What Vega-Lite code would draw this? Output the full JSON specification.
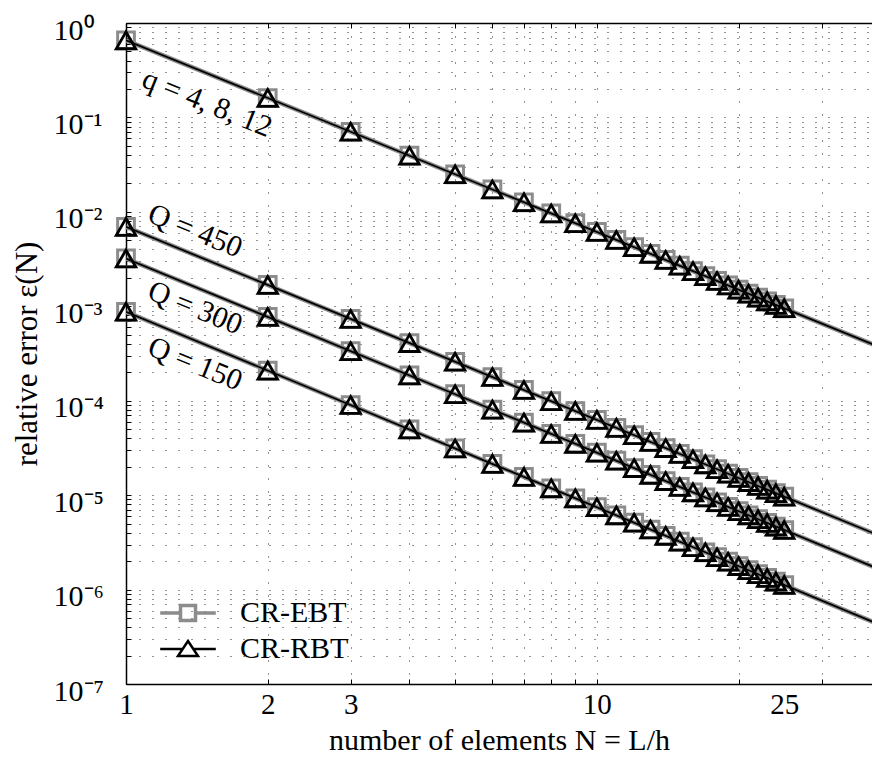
{
  "$schema": "https://vega.github.io/schema/vega-lite/v6.json",
  "width": 746,
  "height": 661,
  "autosize": {"type": "none"},
  "padding": {"left": 126, "top": 23, "right": 0, "bottom": 79},
  "background": "white",
  "config": {
    "view": {"stroke": null},
    "font": "Liberation Serif",
    "axis": {
      "labelFont": "Liberation Serif",
      "titleFont": "Liberation Serif",
      "labelColor": "black",
      "titleColor": "black",
      "titleFontWeight": "normal",
      "domainColor": "black",
      "domainWidth": 1.5,
      "tickColor": "black",
      "tickWidth": 1
    }
  },
  "datasets": {
    "points": [
      {"N": 1, "s": "q", "ebt": 0.656, "rbt": 0.656},
      {"N": 2, "s": "q", "ebt": 0.1606, "rbt": 0.1606},
      {"N": 3, "s": "q", "ebt": 0.07053, "rbt": 0.07053},
      {"N": 4, "s": "q", "ebt": 0.03933, "rbt": 0.03933},
      {"N": 5, "s": "q", "ebt": 0.025, "rbt": 0.025},
      {"N": 6, "s": "q", "ebt": 0.01727, "rbt": 0.01727},
      {"N": 7, "s": "q", "ebt": 0.01263, "rbt": 0.01263},
      {"N": 8, "s": "q", "ebt": 0.00963, "rbt": 0.00963},
      {"N": 9, "s": "q", "ebt": 0.007585, "rbt": 0.007585},
      {"N": 10, "s": "q", "ebt": 0.006122, "rbt": 0.006122},
      {"N": 11, "s": "q", "ebt": 0.005045, "rbt": 0.005045},
      {"N": 12, "s": "q", "ebt": 0.004228, "rbt": 0.004228},
      {"N": 13, "s": "q", "ebt": 0.003594, "rbt": 0.003594},
      {"N": 14, "s": "q", "ebt": 0.003093, "rbt": 0.003093},
      {"N": 15, "s": "q", "ebt": 0.002689, "rbt": 0.002689},
      {"N": 16, "s": "q", "ebt": 0.002358, "rbt": 0.002358},
      {"N": 17, "s": "q", "ebt": 0.002085, "rbt": 0.002085},
      {"N": 18, "s": "q", "ebt": 0.001857, "rbt": 0.001857},
      {"N": 19, "s": "q", "ebt": 0.001664, "rbt": 0.001664},
      {"N": 20, "s": "q", "ebt": 0.0015, "rbt": 0.0015},
      {"N": 21, "s": "q", "ebt": 0.001358, "rbt": 0.001358},
      {"N": 22, "s": "q", "ebt": 0.001236, "rbt": 0.001236},
      {"N": 23, "s": "q", "ebt": 0.001129, "rbt": 0.001129},
      {"N": 24, "s": "q", "ebt": 0.001035, "rbt": 0.001035},
      {"N": 25, "s": "q", "ebt": 0.000953, "rbt": 0.000953},
      {"N": 1, "s": "Q450", "ebt": 0.00694, "rbt": 0.00694},
      {"N": 2, "s": "Q450", "ebt": 0.001683, "rbt": 0.001683},
      {"N": 3, "s": "Q450", "ebt": 0.0007348, "rbt": 0.0007348},
      {"N": 4, "s": "Q450", "ebt": 0.000408, "rbt": 0.000408},
      {"N": 5, "s": "Q450", "ebt": 0.0002586, "rbt": 0.0002586},
      {"N": 6, "s": "Q450", "ebt": 0.0001782, "rbt": 0.0001782},
      {"N": 7, "s": "Q450", "ebt": 0.00013, "rbt": 0.00013},
      {"N": 8, "s": "Q450", "ebt": 9.896e-5, "rbt": 9.896e-5},
      {"N": 9, "s": "Q450", "ebt": 7.78e-5, "rbt": 7.78e-5},
      {"N": 10, "s": "Q450", "ebt": 6.271e-5, "rbt": 6.271e-5},
      {"N": 11, "s": "Q450", "ebt": 5.161e-5, "rbt": 5.161e-5},
      {"N": 12, "s": "Q450", "ebt": 4.32e-5, "rbt": 4.32e-5},
      {"N": 13, "s": "Q450", "ebt": 3.668e-5, "rbt": 3.668e-5},
      {"N": 14, "s": "Q450", "ebt": 3.153e-5, "rbt": 3.153e-5},
      {"N": 15, "s": "Q450", "ebt": 2.738e-5, "rbt": 2.738e-5},
      {"N": 16, "s": "Q450", "ebt": 2.4e-5, "rbt": 2.4e-5},
      {"N": 17, "s": "Q450", "ebt": 2.12e-5, "rbt": 2.12e-5},
      {"N": 18, "s": "Q450", "ebt": 1.886e-5, "rbt": 1.886e-5},
      {"N": 19, "s": "Q450", "ebt": 1.689e-5, "rbt": 1.689e-5},
      {"N": 20, "s": "Q450", "ebt": 1.521e-5, "rbt": 1.521e-5},
      {"N": 21, "s": "Q450", "ebt": 1.376e-5, "rbt": 1.376e-5},
      {"N": 22, "s": "Q450", "ebt": 1.252e-5, "rbt": 1.252e-5},
      {"N": 23, "s": "Q450", "ebt": 1.143e-5, "rbt": 1.143e-5},
      {"N": 24, "s": "Q450", "ebt": 1.048e-5, "rbt": 1.048e-5},
      {"N": 25, "s": "Q450", "ebt": 9.638e-6, "rbt": 9.638e-6},
      {"N": 1, "s": "Q300", "ebt": 0.00321, "rbt": 0.00321},
      {"N": 2, "s": "Q300", "ebt": 0.0007716, "rbt": 0.0007716},
      {"N": 3, "s": "Q300", "ebt": 0.000335, "rbt": 0.000335},
      {"N": 4, "s": "Q300", "ebt": 0.0001854, "rbt": 0.0001854},
      {"N": 5, "s": "Q300", "ebt": 0.0001172, "rbt": 0.0001172},
      {"N": 6, "s": "Q300", "ebt": 8.053e-5, "rbt": 8.053e-5},
      {"N": 7, "s": "Q300", "ebt": 5.866e-5, "rbt": 5.866e-5},
      {"N": 8, "s": "Q300", "ebt": 4.455e-5, "rbt": 4.455e-5},
      {"N": 9, "s": "Q300", "ebt": 3.497e-5, "rbt": 3.497e-5},
      {"N": 10, "s": "Q300", "ebt": 2.815e-5, "rbt": 2.815e-5},
      {"N": 11, "s": "Q300", "ebt": 2.314e-5, "rbt": 2.314e-5},
      {"N": 12, "s": "Q300", "ebt": 1.935e-5, "rbt": 1.935e-5},
      {"N": 13, "s": "Q300", "ebt": 1.641e-5, "rbt": 1.641e-5},
      {"N": 14, "s": "Q300", "ebt": 1.409e-5, "rbt": 1.409e-5},
      {"N": 15, "s": "Q300", "ebt": 1.223e-5, "rbt": 1.223e-5},
      {"N": 16, "s": "Q300", "ebt": 1.071e-5, "rbt": 1.071e-5},
      {"N": 17, "s": "Q300", "ebt": 9.451e-6, "rbt": 9.451e-6},
      {"N": 18, "s": "Q300", "ebt": 8.402e-6, "rbt": 8.402e-6},
      {"N": 19, "s": "Q300", "ebt": 7.518e-6, "rbt": 7.518e-6},
      {"N": 20, "s": "Q300", "ebt": 6.766e-6, "rbt": 6.766e-6},
      {"N": 21, "s": "Q300", "ebt": 6.119e-6, "rbt": 6.119e-6},
      {"N": 22, "s": "Q300", "ebt": 5.561e-6, "rbt": 5.561e-6},
      {"N": 23, "s": "Q300", "ebt": 5.075e-6, "rbt": 5.075e-6},
      {"N": 24, "s": "Q300", "ebt": 4.65e-6, "rbt": 4.65e-6},
      {"N": 25, "s": "Q300", "ebt": 4.275e-6, "rbt": 4.275e-6},
      {"N": 1, "s": "Q150", "ebt": 0.000875, "rbt": 0.000875},
      {"N": 2, "s": "Q150", "ebt": 0.0002084, "rbt": 0.0002084},
      {"N": 3, "s": "Q150", "ebt": 9.001e-5, "rbt": 9.001e-5},
      {"N": 4, "s": "Q150", "ebt": 4.963e-5, "rbt": 4.963e-5},
      {"N": 5, "s": "Q150", "ebt": 3.127e-5, "rbt": 3.127e-5},
      {"N": 6, "s": "Q150", "ebt": 2.144e-5, "rbt": 2.144e-5},
      {"N": 7, "s": "Q150", "ebt": 1.559e-5, "rbt": 1.559e-5},
      {"N": 8, "s": "Q150", "ebt": 1.182e-5, "rbt": 1.182e-5},
      {"N": 9, "s": "Q150", "ebt": 9.262e-6, "rbt": 9.262e-6},
      {"N": 10, "s": "Q150", "ebt": 7.447e-6, "rbt": 7.447e-6},
      {"N": 11, "s": "Q150", "ebt": 6.114e-6, "rbt": 6.114e-6},
      {"N": 12, "s": "Q150", "ebt": 5.106e-6, "rbt": 5.106e-6},
      {"N": 13, "s": "Q150", "ebt": 4.326e-6, "rbt": 4.326e-6},
      {"N": 14, "s": "Q150", "ebt": 3.711e-6, "rbt": 3.711e-6},
      {"N": 15, "s": "Q150", "ebt": 3.217e-6, "rbt": 3.217e-6},
      {"N": 16, "s": "Q150", "ebt": 2.814e-6, "rbt": 2.814e-6},
      {"N": 17, "s": "Q150", "ebt": 2.483e-6, "rbt": 2.483e-6},
      {"N": 18, "s": "Q150", "ebt": 2.206e-6, "rbt": 2.206e-6},
      {"N": 19, "s": "Q150", "ebt": 1.972e-6, "rbt": 1.972e-6},
      {"N": 20, "s": "Q150", "ebt": 1.774e-6, "rbt": 1.774e-6},
      {"N": 21, "s": "Q150", "ebt": 1.603e-6, "rbt": 1.603e-6},
      {"N": 22, "s": "Q150", "ebt": 1.456e-6, "rbt": 1.456e-6},
      {"N": 23, "s": "Q150", "ebt": 1.328e-6, "rbt": 1.328e-6},
      {"N": 24, "s": "Q150", "ebt": 1.216e-6, "rbt": 1.216e-6},
      {"N": 25, "s": "Q150", "ebt": 1.118e-6, "rbt": 1.118e-6}
    ],
    "fit": [
      {"N": 1, "s": "q", "ebt": 0.656, "rbt": 0.656},
      {"N": 40, "s": "q", "ebt": 3.67e-4, "rbt": 3.67e-4},
      {"N": 1, "s": "Q450", "ebt": 0.00694, "rbt": 0.00694},
      {"N": 40, "s": "Q450", "ebt": 3.687e-6, "rbt": 3.687e-6},
      {"N": 1, "s": "Q300", "ebt": 0.00321, "rbt": 0.00321},
      {"N": 40, "s": "Q300", "ebt": 1.626e-6, "rbt": 1.626e-6},
      {"N": 1, "s": "Q150", "ebt": 0.000875, "rbt": 0.000875},
      {"N": 40, "s": "Q150", "ebt": 4.224e-7, "rbt": 4.224e-7}
    ],
    "labels": [
      {"N": 1.486, "e": 0.141, "text": "q = 4, 8, 12"},
      {"N": 1.402, "e": 0.00625, "text": "Q = 450"},
      {"N": 1.402, "e": 0.000957, "text": "Q = 300"},
      {"N": 1.402, "e": 0.000244, "text": "Q = 150"}
    ]
  },
  "layer": [
    {
      "data": {"name": "fit"},
      "mark": {"type": "line", "stroke": "#8c8c8c", "strokeWidth": 4.5, "clip": true},
      "encoding": {
        "x": {
          "field": "N", "type": "quantitative",
          "scale": {"type": "log", "domain": [1, 38.4], "nice": false},
          "axis": {
            "orient": "bottom",
            "values": [1, 2, 3, 4, 5, 6, 7, 8, 9, 10, 20, 25, 30],
            "labelExpr": "indexof([1, 2, 3, 10, 25], datum.value) >= 0 ? '' + datum.value : ''",
            "tickOpacity": {"condition": {"test": "datum.value == 25", "value": 0}, "value": 1},
            "gridOpacity": {"condition": {"test": "datum.value == 25", "value": 0}, "value": 0.85},
            "grid": true,
            "gridDash": [1, 12],
            "gridColor": "black",
            "gridWidth": 1,
            "tickSize": -5,
            "labelFontSize": 29,
            "labelPadding": 11,
            "labelOverlap": false,
            "labelFlush": false,
            "labelBound": false,
            "title": "number of elements N = L/h",
            "titleFontSize": 30,
            "titlePadding": 6
          }
        },
        "y": {
          "field": "ebt", "type": "quantitative",
          "scale": {"type": "log", "domain": [1e-7, 1], "nice": false},
          "axis": {
            "orient": "left",
            "values": [1e-7, 2e-7, 3e-7, 4e-7, 5e-7, 6e-7, 7e-7, 8e-7, 9e-7, 1e-6, 2e-6, 3e-6, 4e-6, 5e-6, 6e-6, 7e-6, 8e-6, 9e-6, 1e-5, 2e-5, 3e-5, 4e-5, 5e-5, 6e-5, 7e-5, 8e-5, 9e-5, 0.0001, 0.0002, 0.0003, 0.0004, 0.0005, 0.0006, 0.0007, 0.0008, 0.0009, 0.001, 0.002, 0.003, 0.004, 0.005, 0.006, 0.007, 0.008, 0.009, 0.01, 0.02, 0.03, 0.04, 0.05, 0.06, 0.07, 0.08, 0.09, 0.1, 0.2, 0.3, 0.4, 0.5, 0.6, 0.7, 0.8, 0.9, 1],
            "labelExpr": "datum.value == 1 ? '10⁰' : datum.value == 0.1 ? '10⁻¹' : datum.value == 0.01 ? '10⁻²' : datum.value == 0.001 ? '10⁻³' : datum.value == 0.0001 ? '10⁻⁴' : datum.value == 0.00001 ? '10⁻⁵' : datum.value == 0.000001 ? '10⁻⁶' : datum.value == 0.0000001 ? '10⁻⁷' : ''",
            "grid": true,
            "gridDash": [1, 12],
            "gridColor": "black",
            "gridWidth": 1,
            "gridOpacity": 0.85,
            "tickSize": -5,
            "labelFontSize": 30,
            "labelAlign": "left",
            "labelBaseline": "middle",
            "labelPadding": 78,
            "labelOffset": 7,
            "labelOverlap": false,
            "labelFlush": false,
            "labelBound": false,
            "title": "relative error ε(N)",
            "titleFontSize": 31,
            "titlePadding": 10
          }
        },
        "detail": {"field": "s"}
      }
    },
    {
      "data": {"name": "points"},
      "mark": {"type": "point", "shape": "square", "size": 280, "stroke": "#8c8c8c", "strokeWidth": 3, "filled": false, "opacity": 1},
      "encoding": {
        "x": {"field": "N", "type": "quantitative", "scale": {"type": "log", "domain": [1, 38.4], "nice": false}, "axis": null},
        "y": {"field": "ebt", "type": "quantitative", "scale": {"type": "log", "domain": [1e-7, 1], "nice": false}}
      }
    },
    {
      "data": {"name": "fit"},
      "mark": {"type": "line", "stroke": "black", "strokeWidth": 1.8, "clip": true},
      "encoding": {
        "x": {"field": "N", "type": "quantitative", "scale": {"type": "log", "domain": [1, 38.4], "nice": false}, "axis": null},
        "y": {"field": "rbt", "type": "quantitative", "scale": {"type": "log", "domain": [1e-7, 1], "nice": false}},
        "detail": {"field": "s"}
      }
    },
    {
      "data": {"name": "points"},
      "mark": {"type": "point", "shape": "triangle-up", "size": 380, "stroke": "black", "strokeWidth": 2.8, "filled": false, "opacity": 1},
      "encoding": {
        "x": {"field": "N", "type": "quantitative", "scale": {"type": "log", "domain": [1, 38.4], "nice": false}, "axis": null},
        "y": {"field": "rbt", "type": "quantitative", "scale": {"type": "log", "domain": [1e-7, 1], "nice": false}}
      }
    },
    {
      "data": {"name": "labels"},
      "mark": {"type": "text", "angle": 22, "align": "center", "baseline": "middle", "font": "Liberation Serif", "fontSize": 30, "color": "black"},
      "encoding": {
        "x": {"field": "N", "type": "quantitative", "scale": {"type": "log", "domain": [1, 38.4], "nice": false}, "axis": null},
        "y": {"field": "e", "type": "quantitative", "scale": {"type": "log", "domain": [1e-7, 1], "nice": false}},
        "text": {"field": "text"}
      }
    },
    {
      "data": {"name": "fit"},
      "transform": [{"filter": "false"}],
      "mark": {"type": "point", "filled": false, "opacity": 1},
      "encoding": {
        "x": {
          "field": "N", "type": "quantitative",
          "scale": {"type": "log", "domain": [1, 38.4], "nice": false},
          "axis": {
            "orient": "top",
            "values": [1, 2, 3, 4, 5, 6, 7, 8, 9, 10, 20, 30],
            "labels": false,
            "grid": false,
            "tickSize": -5,
            "title": null
          }
        },
        "y": {"field": "ebt", "type": "quantitative", "scale": {"type": "log", "domain": [1e-7, 1], "nice": false}},
        "shape": {
          "field": "m", "type": "nominal",
          "scale": {
            "domain": ["CR-EBT", "CR-RBT"],
            "range": [
              "M-2.78,0L-0.75,0M-0.75,-0.75L0.75,-0.75L0.75,0.75L-0.75,0.75ZM0.75,0L2.78,0",
              "M-2.78,0L-0.53,0M0.53,0L2.78,0M0,-0.8L1,0.7L-1,0.7Z"
            ]
          },
          "legend": {
            "title": null,
            "orient": "none",
            "legendX": 47,
            "legendY": 575,
            "padding": 0,
            "symbolSize": 400,
            "symbolFillColor": "white",
            "labelFont": "Liberation Serif",
            "labelFontSize": 30,
            "labelColor": "black",
            "labelOffset": 37,
            "rowPadding": 6
          }
        },
        "stroke": {
          "field": "m", "type": "nominal",
          "scale": {"domain": ["CR-EBT", "CR-RBT"], "range": ["#8c8c8c", "black"]},
          "legend": {"title": null}
        },
        "strokeWidth": {
          "field": "m", "type": "nominal",
          "scale": {"domain": ["CR-EBT", "CR-RBT"], "range": [3.5, 2.5]},
          "legend": {"title": null}
        }
      }
    }
  ],
  "resolve": {"axis": {"x": "independent"}}
}
